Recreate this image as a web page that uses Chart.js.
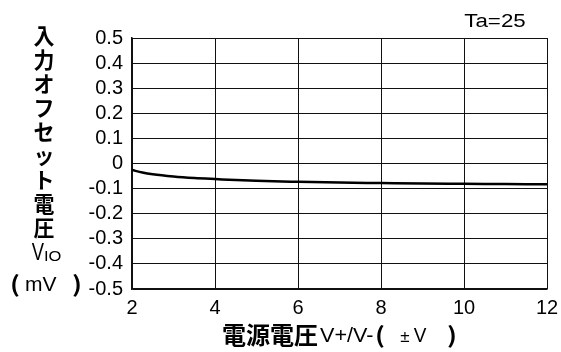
<!DOCTYPE html>
<html>
<head>
<meta charset="utf-8">
<script src="https://cdn.jsdelivr.net/npm/chart.js@4"></script>
<style>
  html, body { margin: 0; padding: 0; background: #fff; }
  #wrap { width: 561px; height: 352px; position: relative; }
</style>
</head>
<body>
<div id="wrap"><canvas id="chart" width="561" height="352"></canvas></div>
<script>
// 電源電圧 (±V) と入力オフセット電圧 (mV)
const supplyVoltage = [2, 2.25, 2.5, 3, 3.5, 4, 5, 6, 7, 8, 9, 10, 11, 12];
const offsetVoltage = [-0.026, -0.036, -0.043, -0.052, -0.058, -0.062, -0.069, -0.073, -0.076, -0.078, -0.080, -0.081, -0.082, -0.083];
const yTitleChars = ["入", "力", "オ", "フ", "セ", "ッ", "ト", "電", "圧"];

const latin = "'Liberation Sans', Arial, sans-serif";
const cjk = "'Noto Sans CJK JP', sans-serif";

// 横に伸ばした文字を描く
function drawText(ctx, text, x, y, font, sx, align) {
  ctx.save();
  ctx.font = font;
  ctx.textAlign = align || "left";
  ctx.textBaseline = "middle";
  ctx.translate(x, y);
  ctx.scale(sx, 1);
  ctx.fillText(text, 0, 0);
  ctx.restore();
}

const labelPlugin = {
  id: "labels",
  afterDraw(chart) {
    const ctx = chart.ctx;
    ctx.save();
    ctx.fillStyle = "#000";

    // 縦軸タイトル
    yTitleChars.forEach((ch, i) => {
      drawText(ctx, ch, 44, 36 + i * 23.9, "bold 22px " + cjk, 0.95, "center");
    });
    drawText(ctx, "V", 38, 254, "23px " + latin, 0.8, "center");
    drawText(ctx, "IO", 44, 257, "15px " + latin, 1.1, "left");
    drawText(ctx, "(", 15, 284, "bold 22px " + cjk, 1.2, "center");
    drawText(ctx, "mV", 25, 285, "21px " + latin, 1.0, "left");
    drawText(ctx, ")", 77, 284, "bold 22px " + cjk, 1.2, "center");

    // 横軸タイトル
    drawText(ctx, "電源電圧", 222, 335, "bold 24px " + cjk, 1.0, "left");
    drawText(ctx, "V+/V-", 320, 336, "20px " + latin, 1.08, "left");
    drawText(ctx, "(", 380, 335, "bold 22px " + cjk, 1.2, "center");
    drawText(ctx, "±", 405, 337, "17px " + latin, 1.0, "center");
    drawText(ctx, "V", 420, 336, "20px " + latin, 0.95, "center");
    drawText(ctx, ")", 452, 335, "bold 22px " + cjk, 1.2, "center");

    // 条件
    drawText(ctx, "Ta=25", 495, 22, "18px " + latin, 1.24, "center");
    ctx.restore();
  }
};

new Chart(document.getElementById("chart"), {
  type: "line",
  data: {
    datasets: [{
      data: supplyVoltage.map((v, i) => ({ x: v, y: offsetVoltage[i] })),
      borderColor: "#000",
      borderWidth: 2.5,
      pointRadius: 0,
      cubicInterpolationMode: "monotone",
      fill: false
    }]
  },
  options: {
    responsive: false,
    animation: false,
    layout: { padding: { top: 38, right: 14, left: 0, bottom: 0 } },
    plugins: { legend: { display: false }, tooltip: { enabled: false } },
    scales: {
      x: {
        type: "linear",
        min: 2,
        max: 12,
        ticks: { stepSize: 2, autoSkip: false, maxRotation: 0, color: "#000", font: { family: latin, size: 20 }, padding: 7 },
        grid: { color: "#111", lineWidth: 1, drawTicks: false },
        border: { color: "#111", width: 1.5 },
        afterFit(scale) {
          scale.height = 63;
          scale.paddingLeft = 0;
          scale.paddingRight = 0;
        }
      },
      y: {
        min: -0.5,
        max: 0.5,
        ticks: {
          stepSize: 0.1,
          autoSkip: false,
          color: "#000",
          font: { family: latin, size: 20 },
          padding: 9,
          callback: (v) => {
            const r = Math.round(v * 10) / 10;
            return r === 0 ? "0" : r.toFixed(1);
          }
        },
        grid: { color: "#111", lineWidth: 1, drawTicks: false },
        border: { color: "#111", width: 1.5 },
        afterFit(scale) {
          scale.width = 132;
          scale.paddingTop = 0;
          scale.paddingBottom = 0;
        }
      }
    }
  },
  plugins: [labelPlugin]
});
</script>
</body>
</html>
